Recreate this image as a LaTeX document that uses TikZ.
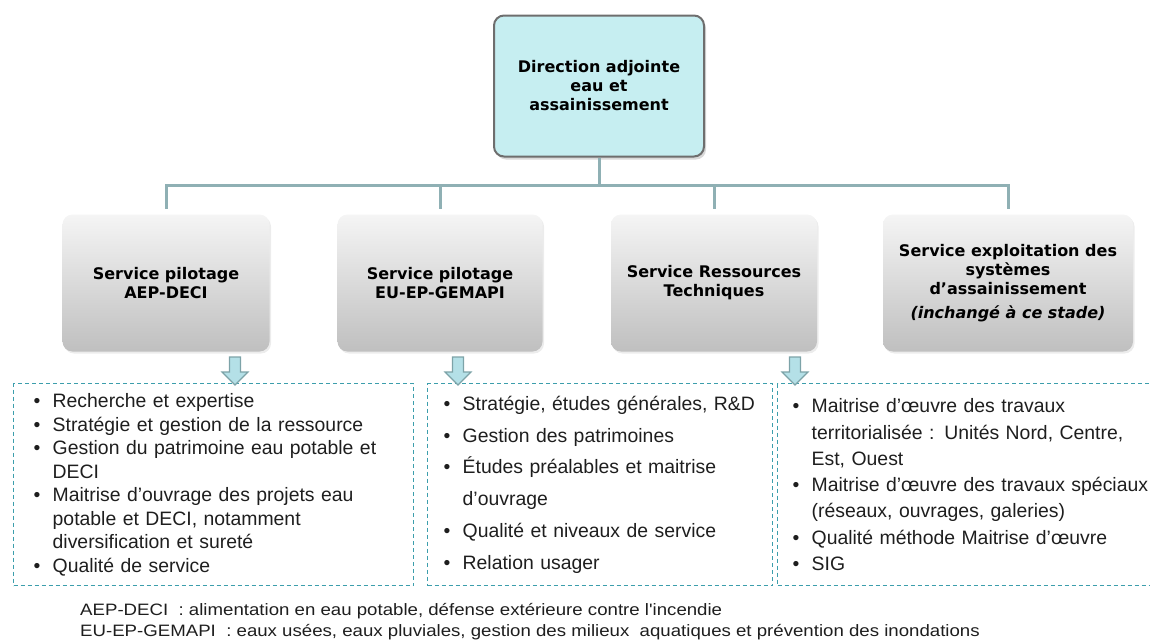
\documentclass[tikz,border=0pt]{standalone}
\usepackage{fontspec}
\setmainfont{Liberation Sans}
\newfontfamily\boxfont{DejaVu Sans}
\newfontfamily\notefont[FakeStretch=1.13]{Liberation Sans}
\usepackage{xcolor}
\usetikzlibrary{positioning,shadows}
\definecolor{dircyan}{RGB}{198,238,241}
\definecolor{dirgray}{RGB}{110,110,110}
\definecolor{linkteal}{RGB}{143,176,180}
\definecolor{dashteal}{RGB}{60,158,172}
\definecolor{arrowfill}{RGB}{180,224,231}
\definecolor{arrowline}{RGB}{125,163,168}
\definecolor{bodytext}{RGB}{30,30,30}
\newcommand{\itm}{\makebox[19pt][l]{\textbullet}}
\newcommand{\cnt}{\hspace*{19pt}}

\begin{document}
\begin{tikzpicture}[x=1pt,y=-1pt,
    every node/.style={inner sep=0pt},
    dirbox/.style={draw=dirgray, line width=2pt, fill=dircyan, rounded corners=10pt,
      minimum width=210pt, minimum height=141pt, align=center,
      font=\boxfont\bfseries\fontsize{16}{19}\selectfont,
      drop shadow={opacity=0.3, shadow xshift=2pt, shadow yshift=-3pt}},
    servbox/.style={top color=gray!8, bottom color=gray!50, rounded corners=10pt,
      minimum height=137pt, align=center,
      font=\boxfont\bfseries\fontsize{16}{19}\selectfont,
      drop shadow={opacity=0.15, shadow xshift=1.5pt, shadow yshift=-2pt}},
    link/.style={draw=linkteal, line width=3pt},
    listbox/.style={draw=dashteal, line width=1.4pt, dash pattern=on 4pt off 3pt,
      anchor=north west, minimum height=202pt, align=left, text=bodytext},
    arrowshape/.style={fill=arrowfill, draw=arrowline, line width=1.2pt}]
  \useasboundingbox (0,0) rectangle (1150,641);
  \clip (0,0) rectangle (1150,641);
  % block arrow pointing down from a coordinate
  \def\blockarrow#1{\draw[arrowshape] (#1) ++(-5.5,0) -- ++(0,15) -- ++(-7.5,0)
    -- ++(13,13) -- ++(13,-13) -- ++(-7.5,0) -- ++(0,-15) -- cycle;}

  % head of the department
  \node[dirbox] (dir) at (599,86) {Direction adjointe\\eau et\\assainissement};

  % services
  \node[servbox, minimum width=207pt] (spA) at (166,283) {Service pilotage\\AEP-DECI};
  \node[servbox, minimum width=205pt] (spB) at (440,283) {Service pilotage\\EU-EP-GEMAPI};
  \node[servbox, minimum width=206pt] (srt) at (714,283) {Service Ressources\\Techniques};
  \node[servbox, minimum width=250pt] (sea) at (1008,283)
    {Service exploitation des\\systèmes\\d’assainissement\\[5pt]{\itshape (inchangé à ce stade)}};

  % tree lines
  \coordinate (bar) at (0,185);
  \foreach \s in {spA,spB,srt,sea}
    \draw[link, shorten >=5pt] (dir.south) -- (dir.south |- bar) -| (\s.north);

  % missions of each service
  \node[listbox, text width=360pt, inner xsep=20pt, font=\fontsize{19.4}{23.5}\selectfont]
    (lstA) at (13,383) {\itm Recherche et expertise\\
    \itm Stratégie et gestion de la ressource\\
    \itm Gestion du patrimoine eau potable et\\
    \cnt DECI\\
    \itm Maitrise d'ouvrage des projets eau\\
    \cnt potable et DECI, notamment\\
    \cnt diversification et sureté\\
    \itm Qualité de service};
  \node[listbox, text width=313pt, inner xsep=16pt, font=\fontsize{19.4}{31.8}\selectfont]
    (lstB) at (427,383) {\itm Stratégie, études générales, R\&D\\
    \itm Gestion des patrimoines\\
    \itm Études préalables et maitrise\\
    \cnt d'ouvrage\\
    \itm Qualité et niveaux de service\\
    \itm Relation usager};
  \node[listbox, text width=380pt, inner xsep=15pt, font=\fontsize{19.4}{26.3}\selectfont]
    (lstC) at (777,383) {\itm Maitrise d'œuvre des travaux\\
    \cnt territorialisée : Unités Nord, Centre,\\
    \cnt Est, Ouest\\
    \itm Maitrise d'œuvre des travaux spéciaux\\
    \cnt (réseaux, ouvrages, galeries)\\
    \itm Qualité méthode Maitrise d'œuvre\\
    \itm SIG};

  % arrows from the services to their lists
  \coordinate (arA) at (235,357);
  \coordinate (arB) at (458,357);
  \coordinate (arC) at (795,357);
  \blockarrow{arA}
  \blockarrow{arB}
  \blockarrow{arC}

  % abbreviations
  \node[anchor=west, text=bodytext, font=\notefont\fontsize{16.5}{19}\selectfont] (noteA) at (80,611)
    {AEP-DECI \ : alimentation en eau potable, défense extérieure contre l'incendie};
  \node[anchor=west, text=bodytext, font=\notefont\fontsize{16.5}{19}\selectfont] (noteB) at (80,632)
    {EU-EP-GEMAPI \ : eaux usées, eaux pluviales, gestion des milieux \ aquatiques et prévention des inondations};
\end{tikzpicture}
\end{document}
